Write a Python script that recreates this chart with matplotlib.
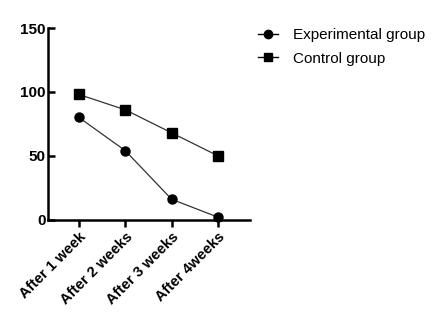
import matplotlib
matplotlib.use("Agg")
import matplotlib.pyplot as plt
from matplotlib.lines import Line2D

categories = ["After 1 week", "After 2 weeks", "After 3 weeks", "After 4weeks"]
experimental = [80, 54, 16, 2]
control = [98, 86, 68, 50]
yticks = [0, 50, 100, 150]

plt.rcParams['font.family'] = ['Liberation Sans', 'DejaVu Sans']

fig = plt.figure(figsize=(4.4, 3.26), dpi=100)
ax = fig.add_axes([0.108, 0.326, 0.460, 0.588])
x = list(range(len(categories)))
ax.plot(x, experimental, color='#333333', lw=0.9, marker='o', ms=6.5,
        mfc='black', mec='black', label='Experimental group', clip_on=False, zorder=3)
ax.plot(x, control, color='#333333', lw=0.9, marker='s', ms=6.5,
        mfc='black', mec='black', label='Control group', clip_on=False, zorder=3)

ax.set_xlim(-0.68, 3.69)
ax.set_ylim(0, 150)
ax.set_yticks(yticks)
ax.set_yticklabels([str(v) for v in yticks], fontsize=11, fontweight='bold')
ax.set_xticks(x)
ax.set_xticklabels(categories, rotation=45, ha='right', rotation_mode='anchor',
                   fontsize=10.6, fontweight='bold')
for s in ['top', 'right']:
    ax.spines[s].set_visible(False)
for s in ['left', 'bottom']:
    ax.spines[s].set_linewidth(1.8)
ax.tick_params(axis='x', direction='out', length=5, width=1.8, color='black', pad=2)
ax.tick_params(axis='y', direction='in', length=5, width=1.8, color='black', pad=1.5)

handles = [Line2D([], [], color='black', lw=1, marker='o', ms=6),
           Line2D([], [], color='black', lw=1, marker='s', ms=6)]
fig.legend(handles, ['Experimental group', 'Control group'], loc='upper left',
           bbox_to_anchor=(0.555, 0.955), frameon=False, fontsize=11,
           handlelength=1.3, handletextpad=1.0, labelspacing=0.6)

fig.savefig("out.png", dpi=100)
